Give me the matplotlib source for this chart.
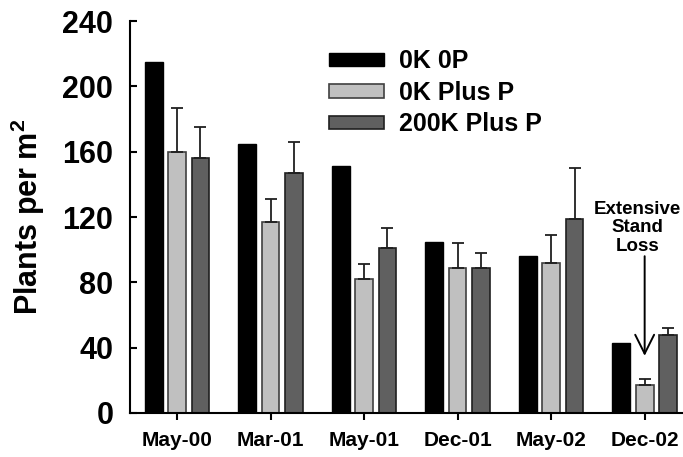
import numpy as np
import matplotlib.pyplot as plt

plt.rcParams['font.family'] = ['Liberation Sans', 'DejaVu Sans']
plt.rcParams['font.weight'] = 'bold'
plt.rcParams['mathtext.fontset'] = 'custom'
plt.rcParams['mathtext.rm'] = 'Liberation Sans:bold'
plt.rcParams['mathtext.bf'] = 'Liberation Sans:bold'

# Data
dates = ['May-00', 'Mar-01', 'May-01', 'Dec-01', 'May-02', 'Dec-02']
k0p0 = [215, 165, 151, 105, 96, 43]
k0_plus_p = [160, 117, 82, 89, 92, 17]
k0_plus_p_err = [27, 14, 9, 15, 17, 4]
k200_plus_p = [156, 147, 101, 89, 119, 48]
k200_plus_p_err = [19, 19, 12, 9, 31, 4]

x = np.arange(len(dates))
w = 0.19
off = 0.25

fig = plt.figure(figsize=(6.83, 4.57), dpi=100)
ax = fig.add_axes([0.1903, 0.0963, 0.8097, 0.8577])

ax.bar(x - off, k0p0, w, color='black', edgecolor='black', lw=1, label='0K 0P')
ax.bar(x, k0_plus_p, w, color='#c0c0c0', edgecolor='#404040', lw=1.2,
       yerr=[np.zeros(6), k0_plus_p_err], capsize=4.6,
       error_kw=dict(ecolor='#202020', elinewidth=1.3, capthick=1.3),
       label='0K Plus P')
ax.bar(x + off, k200_plus_p, w, color='#606060', edgecolor='#202020', lw=1.2,
       yerr=[np.zeros(6), k200_plus_p_err], capsize=4.6,
       error_kw=dict(ecolor='#202020', elinewidth=1.3, capthick=1.3),
       label='200K Plus P')

ax.set_xlim(-0.503, 5.41)
ax.set_ylim(0, 240)
ax.set_yticks(range(0, 241, 40))
ax.set_xticks(x)
ax.set_xticklabels(dates)

for s in ['top', 'right']:
    ax.spines[s].set_visible(False)
for s in ['left', 'bottom']:
    ax.spines[s].set_linewidth(1.5)

ax.tick_params(axis='y', direction='in', length=5, width=1.5, labelsize=22, pad=12)
ax.tick_params(axis='x', direction='out', length=5, width=1.5, labelsize=15, pad=8)
ax.set_ylabel('Plants per m$^{2}$', fontsize=22, fontweight='bold')
ax.yaxis.set_label_coords(-0.150, 0.5)

ax.legend(loc='upper left', bbox_to_anchor=(0.319, 0.985), frameon=False,
          fontsize=18, handlelength=2.2, handleheight=0.45,
          handletextpad=0.6, labelspacing=0.3)

ax.text(4.925, 97, 'Extensive\nStand\nLoss', ha='center', va='bottom',
        fontsize=13.5, fontweight='bold', linespacing=1.1)
ax.annotate('', xy=(5, 35), xytext=(5, 96),
            arrowprops=dict(arrowstyle='->', color='black', lw=1.4,
                            mutation_scale=34, shrinkA=0, shrinkB=0))

plt.savefig('out.png', dpi=100)
